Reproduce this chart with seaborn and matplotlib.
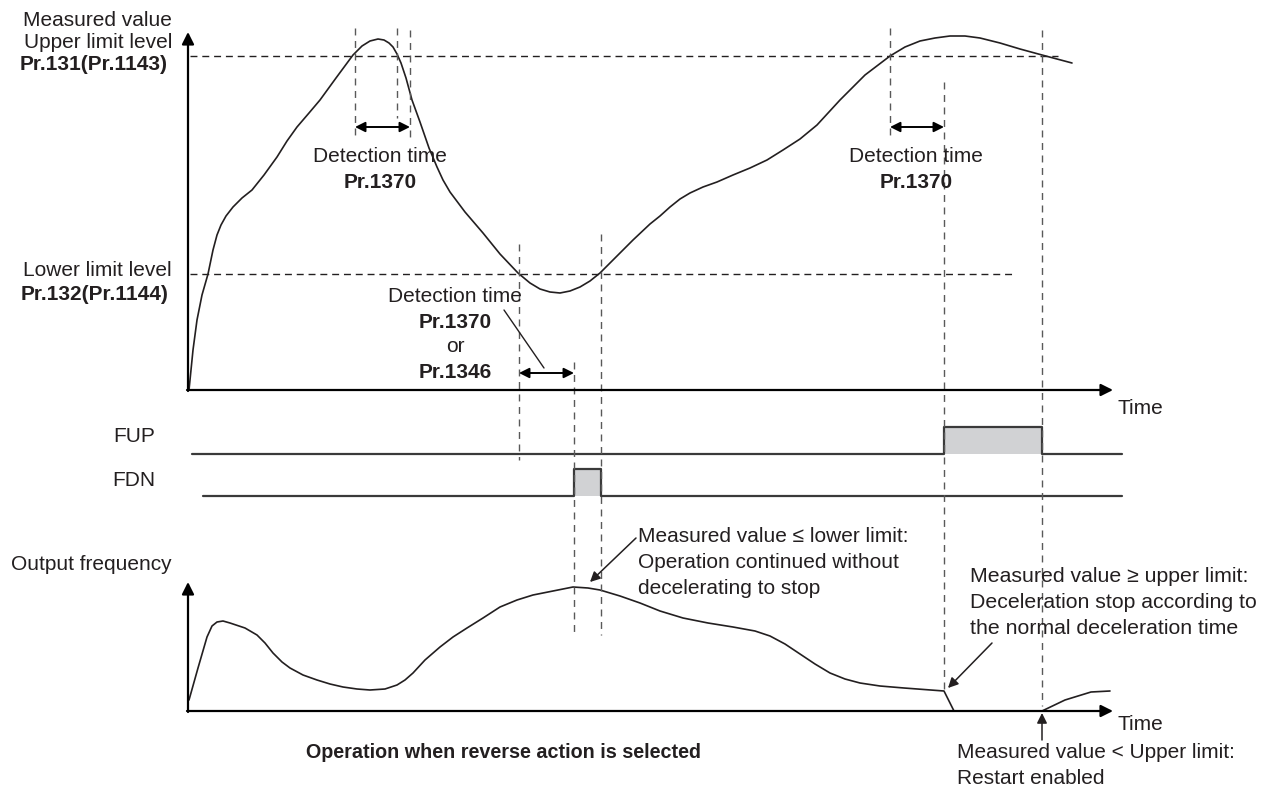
import matplotlib
matplotlib.use("Agg")
import matplotlib.pyplot as plt
import seaborn as sns
import pandas as pd

sns.set_theme(style="white")
plt.rcParams['font.family'] = ['Liberation Sans', 'DejaVu Sans']

# ---------------- data (in picture units) ----------------
measured_time = [189, 193, 197, 202, 208, 213, 217, 221, 226, 233, 242, 252, 264, 277, 287, 297,
                 309, 320, 336, 353, 362, 370, 378, 384, 389, 393, 397, 401, 406, 412, 420, 429,
                 437, 443, 450, 465, 483, 500, 518, 530, 540, 550, 560, 570, 580, 590, 600, 615,
                 633, 650, 660, 670, 680, 690, 703, 717, 733, 750, 767, 783, 800, 817, 840, 865,
                 890, 905, 920, 935, 950, 965, 980, 1000, 1020, 1042, 1072]
measured_value = [390, 350, 320, 295, 274, 250, 235, 225, 216, 207, 198, 190, 175, 157, 141, 127,
                  113, 100, 78, 55, 46, 41, 39, 40, 43, 47, 54, 63, 78, 100, 122, 148,
                  167, 180, 192, 212, 233, 254, 273, 283, 289, 292, 293, 291, 287, 281, 273, 258,
                  240, 224, 216, 207, 199, 193, 187, 182, 175, 168, 160, 150, 139, 125, 100, 75,
                  56, 47, 41, 38, 36, 36, 38, 43, 49, 55, 63]

freq_time = [189, 198, 207, 212, 217, 223, 230, 245, 257, 265, 273, 282, 290, 303, 317, 330,
             343, 357, 370, 385, 397, 405, 413, 425, 440, 453, 467, 483, 500, 517, 533, 553,
             573, 588, 600, 620, 640, 660, 683, 708, 733, 755, 770, 785, 800, 815, 830, 845,
             860, 880, 904, 944, 954, 1042, 1065, 1091, 1110]
freq_value = [700, 668, 637, 626, 622, 621, 623, 628, 635, 643, 653, 662, 668, 675, 680, 684,
              687, 689, 690, 689, 685, 680, 673, 660, 647, 637, 628, 618, 607, 600, 595, 591,
              587, 588, 590, 596, 603, 611, 618, 623, 627, 631, 636, 644, 654, 664, 673, 679,
              683, 686, 688, 691, 711, 711, 700, 692, 691]

upper_limit_level = 56
lower_limit_level = 274

fup_on, fup_off = 944, 1042
fdn_on, fdn_off = 574, 601

# ---------------- figure ----------------
W, H = 1271, 794
fig = plt.figure(figsize=(12.71, 7.94), dpi=100)
ax = fig.add_axes([0, 0, 1, 1])

INK = '#231f20'
DASH = '#595959'
FILL = '#d1d2d4'
FS = 15

# axes origins
x0 = 188
y_top_axis = 390
y_bot_axis = 711
x_end = 1113

# curves
sns.lineplot(data=pd.DataFrame({'t': measured_time, 'v': measured_value}), x='t', y='v',
             sort=False, estimator=None, color=INK, lw=1.2, ax=ax)
sns.lineplot(data=pd.DataFrame({'t': freq_time, 'v': freq_value}), x='t', y='v',
             sort=False, estimator=None, color=INK, lw=1.2, ax=ax)

# FUP / FDN signals
y_fup, h_sig = 454, 27
y_fdn = 496
fup_x = [192, fup_on, fup_on, fup_off, fup_off, 1122]
fup_y = [y_fup, y_fup, y_fup - h_sig, y_fup - h_sig, y_fup, y_fup]
fdn_x = [203, fdn_on, fdn_on, fdn_off, fdn_off, 1122]
fdn_y = [y_fdn, y_fdn, y_fdn - h_sig, y_fdn - h_sig, y_fdn, y_fdn]
ax.fill_between([fup_on, fup_off], y_fup - h_sig, y_fup, color=FILL, lw=0)
ax.fill_between([fdn_on, fdn_off], y_fdn - h_sig, y_fdn, color=FILL, lw=0)
sns.lineplot(x=fup_x, y=fup_y, sort=False, estimator=None, color='#3a3a3a', lw=1.6, ax=ax)
sns.lineplot(x=fdn_x, y=fdn_y, sort=False, estimator=None, color='#3a3a3a', lw=1.6, ax=ax)

# level lines
dash = (0, (5, 3.5))
ax.plot([190, 1058], [upper_limit_level] * 2, ls=dash, color=INK, lw=1)
ax.plot([190, 1015], [lower_limit_level] * 2, ls=dash, color=INK, lw=1)

# vertical dashed guides
vguides = [(355, 28, 135), (397, 28, 118), (410, 30, 138),
           (890, 28, 136), (944, 82, 690), (1042, 30, 706),
           (519, 244, 460), (574, 362, 635), (601, 234, 635)]
for gx, ya, yb in vguides:
    ax.plot([gx, gx], [ya, yb], ls=(0, (5, 4)), color=DASH, lw=1)

# axes with arrows
arrow = dict(arrowstyle='-|>', color='black', lw=1.6, mutation_scale=18, shrinkA=0, shrinkB=0)
ax.annotate('', xy=(x0, 32), xytext=(x0, y_top_axis + 1), arrowprops=arrow)
ax.annotate('', xy=(x_end, y_top_axis), xytext=(x0 - 1, y_top_axis), arrowprops=arrow)
ax.annotate('', xy=(x0, 582), xytext=(x0, y_bot_axis + 1), arrowprops=arrow)
ax.annotate('', xy=(x_end, y_bot_axis), xytext=(x0 - 1, y_bot_axis), arrowprops=arrow)

# detection time arrows
darrow = dict(arrowstyle='<|-|>', color='black', lw=1.4, mutation_scale=15, shrinkA=0, shrinkB=0)
ax.annotate('', xy=(355, 127), xytext=(410, 127), arrowprops=darrow)
ax.annotate('', xy=(890, 127), xytext=(944, 127), arrowprops=darrow)
ax.annotate('', xy=(519, 373), xytext=(574, 373), arrowprops=darrow)

# leader line
ax.plot([504, 544], [310, 368], color=INK, lw=1)

# pointer arrows
parrow = dict(arrowstyle='-|>', color=INK, lw=1.1, mutation_scale=15, shrinkA=0, shrinkB=0)
ax.annotate('', xy=(590, 582), xytext=(636, 538), arrowprops=parrow)
ax.annotate('', xy=(948, 688), xytext=(992, 643), arrowprops=parrow)
ax.annotate('', xy=(1042, 713), xytext=(1042, 740), arrowprops=parrow)

# texts
def t(x, y, s, ha='left', bold=False, size=FS):
    ax.text(x, y, s, ha=ha, va='center', fontsize=size, color=INK,
            fontweight='bold' if bold else 'normal')

t(172, 20, 'Measured value', ha='right')
t(172, 42, 'Upper limit level', ha='right')
t(168, 64, 'Pr.131(Pr.1143)', ha='right', bold=True)
t(172, 270, 'Lower limit level', ha='right')
t(168, 294, 'Pr.132(Pr.1144)', ha='right', bold=True)
t(155, 437, 'FUP', ha='right')
t(155, 480, 'FDN', ha='right')
t(172, 565, 'Output frequency', ha='right')

t(380, 157, 'Detection time', ha='center')
t(380, 183, 'Pr.1370', ha='center', bold=True)
t(916, 157, 'Detection time', ha='center')
t(916, 183, 'Pr.1370', ha='center', bold=True)
t(455, 297, 'Detection time', ha='center')
t(455, 322, 'Pr.1370', ha='center', bold=True)
t(455, 347, 'or', ha='center')
t(455, 373, 'Pr.1346', ha='center', bold=True)

t(1117, 408, 'Time')
t(1117, 725, 'Time')

t(638, 536, 'Measured value \u2264 lower limit:')
t(638, 562, 'Operation continued without')
t(638, 588, 'decelerating to stop')

t(970, 576, 'Measured value \u2265 upper limit:', size=15.3)
t(970, 602, 'Deceleration stop according to', size=15.3)
t(970, 628, 'the normal deceleration time', size=15.3)

t(957, 752, 'Measured value < Upper limit:')
t(957, 778, 'Restart enabled')

t(504, 752, 'Operation when reverse action is selected', ha='center', bold=True, size=14.2)

ax.set_xlim(0, W)
ax.set_ylim(H, 0)
ax.axis('off')
fig.savefig('out.png', dpi=100)
